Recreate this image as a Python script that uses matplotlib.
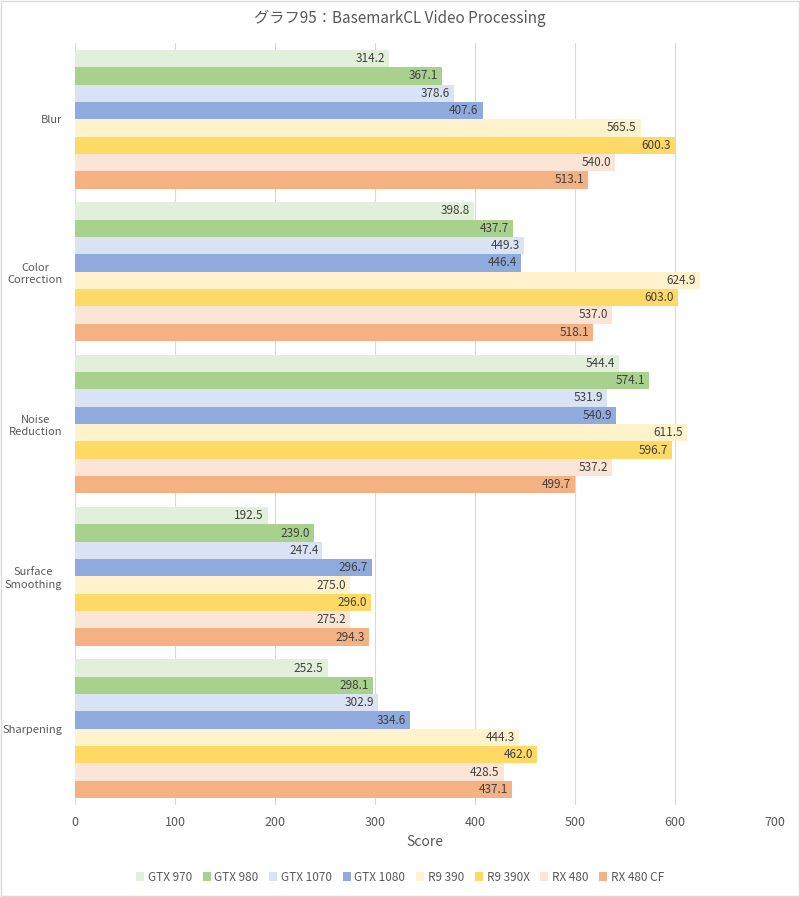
import matplotlib
matplotlib.use("Agg")
import matplotlib.pyplot as plt
import numpy as np
from matplotlib.patches import Rectangle

plt.rcParams['font.family'] = ['Noto Sans CJK JP', 'DejaVu Sans']

categories = ["Blur", "Color\nCorrection", "Noise\nReduction", "Surface\nSmoothing", "Sharpening"]
series = ["GTX 970", "GTX 980", "GTX 1070", "GTX 1080", "R9 390", "R9 390X", "RX 480", "RX 480 CF"]
colors = ["#E2EFDA", "#A9D18E", "#DAE3F3", "#8FAADC", "#FFF2CC", "#FFD966", "#FBE5D6", "#F4B183"]
values = {
    "GTX 970":   [314.2, 398.8, 544.4, 192.5, 252.5],
    "GTX 980":   [367.1, 437.7, 574.1, 239.0, 298.1],
    "GTX 1070":  [378.6, 449.3, 531.9, 247.4, 302.9],
    "GTX 1080":  [407.6, 446.4, 540.9, 296.7, 334.6],
    "R9 390":    [565.5, 624.9, 611.5, 275.0, 444.3],
    "R9 390X":   [600.3, 603.0, 596.7, 296.0, 462.0],
    "RX 480":    [540.0, 537.0, 537.2, 275.2, 428.5],
    "RX 480 CF": [513.1, 518.1, 499.7, 294.3, 437.1],
}
xticks = [0, 100, 200, 300, 400, 500, 600, 700]

fig = plt.figure(figsize=(8.0, 8.97), dpi=100)
ax = fig.add_axes([75/800, 1-805/897, 700/800, 762/897])

n = len(series)
group_w = 0.91
bh = group_w / n
y = np.arange(len(categories))
for i, s in enumerate(series):
    pos = y - group_w/2 + bh*(i+0.5)
    bars = ax.barh(pos, values[s], height=bh, color=colors[i], label=s, zorder=2)
    for b, v in zip(bars, values[s]):
        ax.text(v - 4, b.get_y() + b.get_height()/2, f"{v:.1f}", ha='right', va='center',
                fontsize=8.5, color='#404040', zorder=3)

ax.set_xlim(0, 700)
ax.set_ylim(len(categories)-0.5, -0.5)
ax.set_xticks(xticks)
ax.set_xticklabels([str(t) for t in xticks], fontsize=9, color='#595959')
ax.set_yticks(y)
ax.set_yticklabels(categories, fontsize=8, color='#595959', linespacing=1.3,
                   multialignment='center')
ax.tick_params(axis='y', length=0, pad=9)
ax.tick_params(axis='x', length=0, pad=8)
ax.grid(axis='x', color='#D9D9D9', linewidth=0.8, zorder=0)
for sp in ax.spines.values():
    sp.set_visible(False)
ax.set_xlabel("Score", fontsize=10, color='#595959', labelpad=4)

fig.text(0.5, 1-18/897, "グラフ95：BasemarkCL Video Processing", ha='center', va='center',
         fontsize=11, color='#595959')

leg = ax.legend(loc='center', ncol=8, frameon=False, fontsize=8.5, handlelength=0.7,
                handleheight=0.7, handletextpad=0.3, columnspacing=0.9, labelcolor='#595959')
leg.set_bbox_to_anchor((0.5, 1-877/897), transform=fig.transFigure)

fig.patches.append(Rectangle((0.001, 0.001), 0.998, 0.998, transform=fig.transFigure,
                             fill=False, edgecolor='#D9D9D9', linewidth=1))

fig.savefig("out.png", dpi=100)
